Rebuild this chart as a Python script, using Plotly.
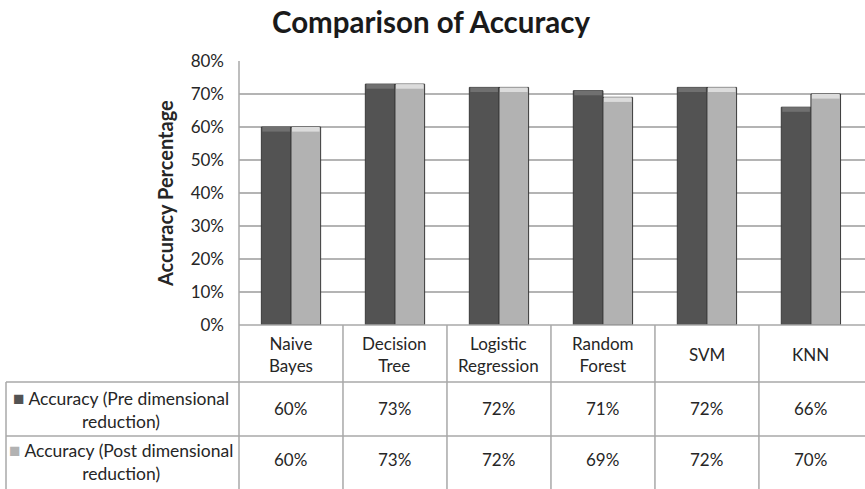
import plotly.graph_objects as go

# Chart data
categories = ["Naive Bayes", "Decision Tree", "Logistic Regression", "Random Forest", "SVM", "KNN"]
header_labels = ["Naive<br>Bayes", "Decision<br>Tree", "Logistic<br>Regression", "Random<br>Forest", "SVM", "KNN"]
pre_reduction = [60, 73, 72, 71, 72, 66]
post_reduction = [60, 73, 72, 69, 72, 70]
series_names = ["Accuracy (Pre dimensional<br>reduction)", "Accuracy (Post dimensional<br>reduction)"]
y_ticks = [0, 10, 20, 30, 40, 50, 60, 70, 80]

W, H = 865, 489
L, R, T, B = 239, 0, 61, 164
PW, PH = W - L - R, H - T - B
FONT = "Lato"
TXT = "#262626"
LINE = "#a8a8a8"

dark, dark_cap = "#535353", "#707070"
light, light_cap = "#b2b2b2", "#dcdcdc"


def py(p):
    """pixel row -> paper y"""
    return (H - B - p) / PH


def px(p):
    """pixel column -> paper x"""
    return (p - L) / PW


bw = 0.285
cap = 1.4
fig = go.Figure()
for vals, col, capcol, off, name in [
    (pre_reduction, dark, dark_cap, -bw, series_names[0]),
    (post_reduction, light, light_cap, 0, series_names[1]),
]:
    fig.add_trace(go.Bar(
        x=categories, y=vals, name=name.replace("<br>", " "),
        width=bw, offset=off,
        marker=dict(color=col, line=dict(color="#3a3a3a", width=1)),
        showlegend=False,
    ))
    # bevelled top edge of each column
    fig.add_trace(go.Bar(
        x=categories, y=[cap] * len(vals), base=[v - cap for v in vals],
        width=bw * 0.93, offset=off + bw * 0.035,
        marker=dict(color=capcol, line=dict(width=0)),
        showlegend=False, hoverinfo="skip",
    ))

shapes = []
bottom = -1.0
lw = 1.5
# data-table grid
shapes.append(dict(type="line", xref="paper", yref="paper", x0=0, x1=1, y0=0, y1=0,
                   line=dict(color=LINE, width=lw)))
for yy in (382, 436):
    shapes.append(dict(type="line", xref="paper", yref="paper", x0=px(6), x1=1, y0=py(yy), y1=py(yy),
                       line=dict(color=LINE, width=lw)))
shapes.append(dict(type="line", xref="paper", yref="paper", x0=0, x1=0, y0=1, y1=bottom,
                   line=dict(color=LINE, width=lw)))
shapes.append(dict(type="line", xref="paper", yref="paper", x0=px(6), x1=px(6), y0=py(382), y1=bottom,
                   line=dict(color=LINE, width=lw)))
for i in range(len(categories) - 1):
    shapes.append(dict(type="line", xref="x", yref="paper", x0=i + 0.5, x1=i + 0.5, y0=0, y1=bottom,
                       line=dict(color=LINE, width=lw)))

cell_font = dict(family=FONT, size=17, color=TXT)
ann = []
for c, lab in zip(categories, header_labels):
    ann.append(dict(x=c, xref="x", y=py(354), yref="paper", text=lab, showarrow=False,
                    xanchor="center", yanchor="middle", font=cell_font))
for vals, yy in [(pre_reduction, 408), (post_reduction, 460)]:
    for c, v in zip(categories, vals):
        ann.append(dict(x=c, xref="x", y=py(yy), yref="paper", text=f"{v}%", showarrow=False,
                        xanchor="center", yanchor="middle", font=cell_font))
for name, col, yy in [(series_names[0], dark, 409), (series_names[1], light, 461)]:
    ann.append(dict(x=px(121), xref="paper", y=py(yy), yref="paper",
                    text=f"<span style='color:{col};font-size:19px'>■</span> {name}", showarrow=False,
                    xanchor="center", yanchor="middle", align="center",
                    font=dict(family=FONT, size=17.5, color=TXT)))

ann.append(dict(x=px(165), xref="paper", y=py(194), yref="paper", text="<b>Accuracy Percentage</b>",
                textangle=-90, showarrow=False, xanchor="center", yanchor="middle",
                font=dict(family=FONT, size=20, color=TXT)))

fig.update_layout(
    width=W, height=H,
    margin=dict(l=L, r=R, t=T, b=B),
    paper_bgcolor="white", plot_bgcolor="white",
    barmode="overlay",
    title=dict(text="<b>Comparison of Accuracy</b>", xref="paper", x=px(431), xanchor="center",
               yref="container", y=1 - 23 / H, yanchor="middle",
               font=dict(family=FONT, size=29.5, color="#1a1a1a")),
    xaxis=dict(range=[-0.5, 5.52], showticklabels=False, showgrid=False, zeroline=False,
               showline=False, fixedrange=True),
    yaxis=dict(range=[0, 80], tickvals=y_ticks, ticktext=[f"{t}%" for t in y_ticks],
               showgrid=True, gridcolor="#b4b4b4", gridwidth=1.5, zeroline=False,
               showline=False, ticklabelstandoff=14,
               tickfont=dict(family=FONT, size=17, color=TXT)),
    shapes=shapes,
    annotations=ann,
    showlegend=False,
)

fig.write_html("out.html")
